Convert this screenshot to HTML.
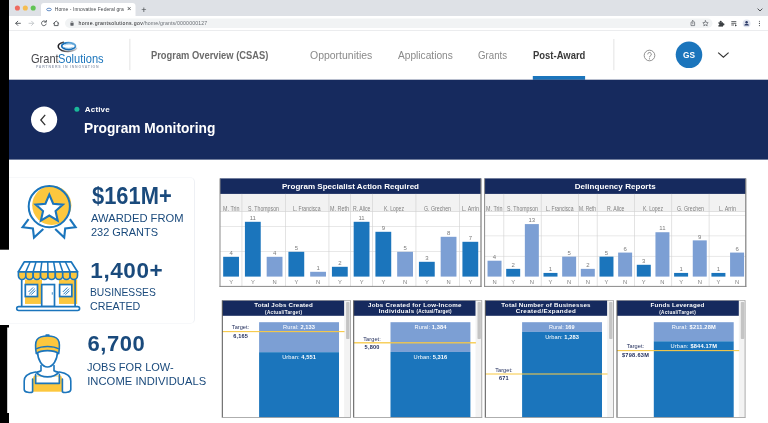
<!DOCTYPE html>
<html><head><meta charset="utf-8"><title>Program Monitoring</title>
<style>
html,body{margin:0;padding:0;}
body{width:768px;height:423px;overflow:hidden;background:#fff;position:relative;font-family:"Liberation Sans",sans-serif;}
div{box-sizing:border-box;}
</style></head><body>
<div id="root" style="position:absolute;left:0;top:0;width:768px;height:423px;overflow:hidden;will-change:transform;transform:translateZ(0);">
<svg style="position:absolute;left:0;top:0" width="768" height="423" viewBox="0 0 768 423"><rect x="0.00" y="0.00" width="9.00" height="249.70" fill="#000"/><rect x="0.00" y="325.00" width="9.00" height="2.50" fill="#000"/><rect x="0.00" y="325.00" width="7.20" height="98.00" fill="#000"/><rect x="0.00" y="413.00" width="9.00" height="10.00" fill="#000"/><rect x="9.00" y="0.00" width="759.00" height="16.00" fill="#dee1e6"/><path d="M41 16.2 V6 A3 3 0 0 1 44 3 H132.5 A3 3 0 0 1 135.5 6 V16.2 Z" fill="#fff"/><circle cx="17.40" cy="7.95" r="2.55" fill="#ee6a5f"/><circle cx="25.30" cy="7.95" r="2.55" fill="#f5bd4f"/><circle cx="33.20" cy="7.95" r="2.55" fill="#61c454"/><rect x="9.00" y="16.00" width="759.00" height="14.40" fill="#fff"/><rect x="9.00" y="30.30" width="759.00" height="0.60" fill="#dadce0"/><rect x="65.00" y="18.60" width="647.50" height="9.30" rx="4.65" fill="#f1f3f4"/><rect x="9.00" y="30.90" width="759.00" height="48.80" fill="#fff"/><rect x="129.50" y="38.80" width="0.80" height="31.40" fill="#dcdcdc"/><rect x="532.80" y="76.00" width="52.30" height="3.80" fill="#1b75bc"/><rect x="613.50" y="39.00" width="0.80" height="31.20" fill="#dcdcdc"/><circle cx="689.00" cy="54.80" r="13.30" fill="#1b75bc"/><rect x="9.00" y="79.70" width="759.00" height="79.90" fill="#162a5e"/><circle cx="44.10" cy="119.60" r="13.10" fill="#fff"/><circle cx="76.90" cy="109.20" r="2.50" fill="#1ab99a"/><rect x="220.00" y="178.40" width="261.00" height="108.00" fill="#fff"/><rect x="220.00" y="193.90" width="261.00" height="17.40" fill="#f2f2f2"/><rect x="220.00" y="178.40" width="261.00" height="15.50" fill="#162a5e"/><rect x="220.00" y="251.30" width="261.00" height="0.60" fill="#d9d9d9"/><rect x="220.00" y="226.30" width="261.00" height="0.60" fill="#d9d9d9"/><rect x="220.00" y="211.00" width="261.00" height="0.60" fill="#cfcfcf"/><rect x="241.65" y="193.90" width="0.60" height="92.50" fill="#d0d0d0"/><rect x="285.15" y="193.90" width="0.60" height="92.50" fill="#d0d0d0"/><rect x="328.65" y="193.90" width="0.60" height="92.50" fill="#d0d0d0"/><rect x="350.40" y="193.90" width="0.60" height="92.50" fill="#d0d0d0"/><rect x="372.15" y="193.90" width="0.60" height="92.50" fill="#d0d0d0"/><rect x="415.65" y="193.90" width="0.60" height="92.50" fill="#d0d0d0"/><rect x="459.15" y="193.90" width="0.60" height="92.50" fill="#d0d0d0"/><rect x="223.17" y="256.80" width="15.81" height="19.80" fill="#1b75bc"/><rect x="244.92" y="221.80" width="15.81" height="54.80" fill="#1b75bc"/><rect x="266.67" y="256.80" width="15.81" height="19.80" fill="#7c9fd4"/><rect x="288.42" y="251.80" width="15.81" height="24.80" fill="#1b75bc"/><rect x="310.17" y="271.80" width="15.81" height="4.80" fill="#7c9fd4"/><rect x="331.92" y="266.80" width="15.81" height="9.80" fill="#1b75bc"/><rect x="353.67" y="221.80" width="15.81" height="54.80" fill="#1b75bc"/><rect x="375.42" y="231.80" width="15.81" height="44.80" fill="#1b75bc"/><rect x="397.17" y="251.80" width="15.81" height="24.80" fill="#7c9fd4"/><rect x="418.92" y="261.80" width="15.81" height="14.80" fill="#1b75bc"/><rect x="440.67" y="236.80" width="15.81" height="39.80" fill="#7c9fd4"/><rect x="462.42" y="241.80" width="15.81" height="34.80" fill="#1b75bc"/><rect x="219.50" y="178.40" width="1.00" height="108.50" fill="#8a8a8a"/><rect x="219.50" y="285.90" width="262.00" height="1.00" fill="#8a8a8a"/><rect x="480.40" y="178.40" width="1.20" height="108.50" fill="#808080"/><rect x="484.60" y="178.40" width="261.20" height="108.00" fill="#fff"/><rect x="484.60" y="193.90" width="261.20" height="17.40" fill="#f2f2f2"/><rect x="484.60" y="178.40" width="261.20" height="15.50" fill="#162a5e"/><rect x="484.60" y="255.95" width="261.20" height="0.60" fill="#d9d9d9"/><rect x="484.60" y="235.60" width="261.20" height="0.60" fill="#d9d9d9"/><rect x="484.60" y="215.25" width="261.20" height="0.60" fill="#d9d9d9"/><rect x="484.60" y="211.00" width="261.20" height="0.60" fill="#cfcfcf"/><rect x="503.56" y="193.90" width="0.60" height="92.50" fill="#d0d0d0"/><rect x="540.87" y="193.90" width="0.60" height="92.50" fill="#d0d0d0"/><rect x="578.19" y="193.90" width="0.60" height="92.50" fill="#d0d0d0"/><rect x="596.84" y="193.90" width="0.60" height="92.50" fill="#d0d0d0"/><rect x="634.16" y="193.90" width="0.60" height="92.50" fill="#d0d0d0"/><rect x="671.47" y="193.90" width="0.60" height="92.50" fill="#d0d0d0"/><rect x="708.79" y="193.90" width="0.60" height="92.50" fill="#d0d0d0"/><rect x="487.53" y="260.72" width="13.99" height="15.88" fill="#7c9fd4"/><rect x="506.19" y="268.86" width="13.99" height="7.74" fill="#1b75bc"/><rect x="524.85" y="224.09" width="13.99" height="52.51" fill="#7c9fd4"/><rect x="543.50" y="272.93" width="13.99" height="3.67" fill="#1b75bc"/><rect x="562.16" y="256.65" width="13.99" height="19.95" fill="#7c9fd4"/><rect x="580.82" y="268.86" width="13.99" height="7.74" fill="#7c9fd4"/><rect x="599.48" y="256.65" width="13.99" height="19.95" fill="#1b75bc"/><rect x="618.13" y="252.58" width="13.99" height="24.02" fill="#7c9fd4"/><rect x="636.79" y="264.79" width="13.99" height="11.81" fill="#1b75bc"/><rect x="655.45" y="232.23" width="13.99" height="44.37" fill="#7c9fd4"/><rect x="674.10" y="272.93" width="13.99" height="3.67" fill="#1b75bc"/><rect x="692.76" y="240.37" width="13.99" height="36.23" fill="#7c9fd4"/><rect x="711.42" y="272.93" width="13.99" height="3.67" fill="#1b75bc"/><rect x="730.08" y="252.58" width="13.99" height="24.02" fill="#7c9fd4"/><rect x="484.10" y="178.40" width="1.00" height="108.50" fill="#8a8a8a"/><rect x="484.10" y="285.90" width="262.20" height="1.00" fill="#8a8a8a"/><rect x="745.20" y="178.40" width="1.20" height="108.50" fill="#808080"/><rect x="222.30" y="300.30" width="128.10" height="117.10" fill="#fff"/><rect x="344.10" y="300.30" width="6.30" height="117.10" fill="#f3f3f3"/><rect x="222.30" y="300.30" width="121.80" height="15.50" fill="#162a5e"/><rect x="259.10" y="322.20" width="79.90" height="30.00" fill="#7c9fd4"/><rect x="259.10" y="352.20" width="79.90" height="65.20" fill="#1b75bc"/><rect x="346.10" y="302.10" width="3.40" height="37.00" rx="0.8" fill="#c4c4c4"/><rect x="222.30" y="331.05" width="122.20" height="1.10" fill="rgb(247,201,70)" fill-opacity="1.0"/><rect x="221.80" y="300.30" width="1.00" height="117.10" fill="#555"/><rect x="221.80" y="417.00" width="129.10" height="0.80" fill="#9a9a9a"/><rect x="350.00" y="300.30" width="0.80" height="117.10" fill="#9a9a9a"/><rect x="222.30" y="300.00" width="128.10" height="0.60" fill="#9a9a9a"/><rect x="353.70" y="300.30" width="128.10" height="117.10" fill="#fff"/><rect x="475.50" y="300.30" width="6.30" height="117.10" fill="#f3f3f3"/><rect x="353.70" y="300.30" width="121.80" height="15.50" fill="#162a5e"/><rect x="390.50" y="322.20" width="79.90" height="29.70" fill="#7c9fd4"/><rect x="390.50" y="351.90" width="79.90" height="65.50" fill="#1b75bc"/><rect x="477.50" y="302.10" width="3.40" height="37.00" rx="0.8" fill="#c4c4c4"/><rect x="353.70" y="342.15" width="122.20" height="1.30" fill="rgb(247,201,70)" fill-opacity="1.0"/><rect x="353.20" y="300.30" width="1.00" height="117.10" fill="#555"/><rect x="353.20" y="417.00" width="129.10" height="0.80" fill="#9a9a9a"/><rect x="481.40" y="300.30" width="0.80" height="117.10" fill="#9a9a9a"/><rect x="353.70" y="300.00" width="128.10" height="0.60" fill="#9a9a9a"/><rect x="485.30" y="300.30" width="128.10" height="117.10" fill="#fff"/><rect x="607.10" y="300.30" width="6.30" height="117.10" fill="#f3f3f3"/><rect x="485.30" y="300.30" width="121.80" height="15.50" fill="#162a5e"/><rect x="522.10" y="322.20" width="79.90" height="9.60" fill="#7c9fd4"/><rect x="522.10" y="331.80" width="79.90" height="85.60" fill="#1b75bc"/><rect x="609.10" y="302.10" width="3.40" height="37.00" rx="0.8" fill="#c4c4c4"/><rect x="485.30" y="373.20" width="122.20" height="1.60" fill="rgb(247,201,70)" fill-opacity="0.65"/><rect x="484.80" y="300.30" width="1.00" height="117.10" fill="#555"/><rect x="484.80" y="417.00" width="129.10" height="0.80" fill="#9a9a9a"/><rect x="613.00" y="300.30" width="0.80" height="117.10" fill="#9a9a9a"/><rect x="485.30" y="300.00" width="128.10" height="0.60" fill="#9a9a9a"/><rect x="617.00" y="300.30" width="128.10" height="117.10" fill="#fff"/><rect x="738.80" y="300.30" width="6.30" height="117.10" fill="#f3f3f3"/><rect x="617.00" y="300.30" width="121.80" height="15.50" fill="#162a5e"/><rect x="653.80" y="322.20" width="79.90" height="19.10" fill="#7c9fd4"/><rect x="653.80" y="341.30" width="79.90" height="76.10" fill="#1b75bc"/><rect x="740.80" y="302.10" width="3.40" height="37.00" rx="0.8" fill="#c4c4c4"/><rect x="617.00" y="350.05" width="122.20" height="1.10" fill="rgb(247,201,70)" fill-opacity="1.0"/><rect x="616.50" y="300.30" width="1.00" height="117.10" fill="#555"/><rect x="616.50" y="417.00" width="129.10" height="0.80" fill="#9a9a9a"/><rect x="744.70" y="300.30" width="0.80" height="117.10" fill="#9a9a9a"/><rect x="617.00" y="300.00" width="128.10" height="0.60" fill="#9a9a9a"/></svg>
<svg style="position:absolute;left:45.5px;top:7px" width="6" height="5" viewBox="0 0 6 5"><ellipse cx="3" cy="2.5" rx="2.3" ry="1.3" fill="none" stroke="#3b6fb5" stroke-width="0.8"/></svg>
<div style="position:absolute;left:54.80px;top:6.97px;font-size:5px;line-height:5px;color:#45484c;white-space:pre;letter-spacing:0.052px;">Home - Innovative Federal gra</div>
<div style="position:absolute;left:127.01px;top:5.25px;font-size:7.5px;line-height:7.5px;color:#3c4043;white-space:pre;">×</div>
<div style="position:absolute;left:141.37px;top:5.58px;font-size:9px;line-height:9px;color:#3c4043;white-space:pre;">+</div>
<svg style="position:absolute;left:756.5px;top:7.5px" width="6" height="4" viewBox="0 0 6 4"><path d="M0.6 0.6 L3 3 L5.4 0.6" fill="none" stroke="#3c4043" stroke-width="0.9"/></svg>
<svg style="position:absolute;left:12px;top:18px" width="52" height="11" viewBox="0 0 52 11">
<g fill="none" stroke="#54585d" stroke-width="0.95" stroke-linecap="round" stroke-linejoin="round">
<path d="M8.4 5.3 H3.8 M5.8 3.2 L3.7 5.3 L5.8 7.4"/>
<path d="M17 5.3 H21.6 M19.6 3.2 L21.7 5.3 L19.6 7.4" stroke="#c4c7ca"/>
<path d="M33.9 3.9 A2.4 2.4 0 1 0 34.2 6.1"/>
<path d="M34.3 2.4 V4.1 H32.6" />
<path d="M41.6 5.4 L44.2 3 L46.8 5.4 M42.3 5 V7.6 H46.1 V5"/>
</g></svg>
<svg style="position:absolute;left:69.8px;top:20.6px" width="4" height="5" viewBox="0 0 4 5"><rect x="0.4" y="2" width="3.2" height="2.7" rx="0.4" fill="#5f6368"/><path d="M1.1 2.1 V1.4 A0.9 0.9 0 0 1 2.9 1.4 V2.1" fill="none" stroke="#5f6368" stroke-width="0.6"/></svg>
<div style="position:absolute;left:78.50px;top:20.80px;font-size:5.2px;line-height:5.2px;color:#202124;white-space:pre;letter-spacing:0.356px;">home.grantsolutions.gov</div>
<div style="position:absolute;left:143.20px;top:20.80px;font-size:5.2px;line-height:5.2px;color:#6a6f75;white-space:pre;letter-spacing:0.158px;">/home/grants/0000000127</div>
<svg style="position:absolute;left:688px;top:18px" width="78" height="11" viewBox="0 0 78 11">
<g fill="none" stroke="#5f6368" stroke-width="0.7" stroke-linejoin="round" stroke-linecap="round">
<path d="M3.3 4.2 H3 V7.6 H6.6 V4.2 H6.3 M4.8 5.9 V2.6 M3.8 3.5 L4.8 2.5 L5.8 3.5"/>
<path d="M17.5 2.7 L18.3 4.5 L20.2 4.7 L18.8 6 L19.2 7.9 L17.5 6.9 L15.8 7.9 L16.2 6 L14.8 4.7 L16.7 4.5 Z"/>
</g>
<path d="M30.4 4.3 H35 V8.6 H30.4 Z" fill="#3c4043"/><circle cx="32.700" cy="3.700" r="1.05" fill="#3c4043"/><circle cx="35.4" cy="6.4" r="1.05" fill="#3c4043"/><circle cx="30.5" cy="6.4" r="0.8" fill="#fff"/>
<g stroke="#3c4043" stroke-width="0.8"><path d="M43.3 3.6 H48.3 M43.3 5.3 H48.3 M43.3 7 H46"/></g>
<path d="M47 6.2 L49 7.3 L47 8.4 Z" fill="#3c4043"/>
<circle cx="58.6" cy="5.4" r="3.9" fill="#dfe3ee"/>
<circle cx="58.6" cy="4.3" r="1.2" fill="#2b3a67"/>
<path d="M56.2 7.6 a2.4 1.9 0 0 1 4.8 0 z" fill="#2b3a67"/>
<circle cx="71.4" cy="3.2" r="0.55" fill="#3c4043"/><circle cx="71.4" cy="5.4" r="0.55" fill="#3c4043"/><circle cx="71.4" cy="7.6" r="0.55" fill="#3c4043"/>
</svg>
<svg style="position:absolute;left:52px;top:38px" width="30" height="17" viewBox="52 38 30 17">
<defs><linearGradient id="lgd" x1="0" y1="0" x2="1" y2="0"><stop offset="0" stop-color="#1d1d22"/><stop offset="0.45" stop-color="#6a6a70"/><stop offset="1" stop-color="#c9c9cd"/></linearGradient>
<linearGradient id="lgb" x1="0" y1="1" x2="1" y2="0"><stop offset="0" stop-color="#0d62ad"/><stop offset="0.6" stop-color="#1b75bc"/><stop offset="1" stop-color="#8cc3ea"/></linearGradient></defs>
<path d="M63.5 42.300 C59.5 43.2 57.9 45.2 58.3 47.2 C58.9 50 63.5 51.7 68.5 51.5 C72.5 51.3 75.6 50 76.6 48.2" fill="none" stroke="url(#lgd)" stroke-width="1.5" stroke-linecap="round"/>
<ellipse cx="68.6" cy="46.1" rx="6.900" ry="3.500" fill="none" stroke="url(#lgb)" stroke-width="1.7"/>
<path d="M63.4 47.100 C66 48.8 71 48.6 72.8 47.2" fill="none" stroke="#5aa5dc" stroke-width="0.7"/>
<path d="M64.6 45.100 C66.5 43.8 71.5 43.7 73.6 44.900" fill="none" stroke="#5aa5dc" stroke-width="0.6"/>
</svg>
<div style="position:absolute;left:30.50px;top:51.90px;font-size:13px;line-height:13px;color:#47474c;white-space:pre;transform:scaleX(0.8520);transform-origin:0 0;">Grant</div>
<div style="position:absolute;left:58.20px;top:51.90px;font-size:13px;line-height:13px;color:#1b75bc;white-space:pre;transform:scaleX(0.8526);transform-origin:0 0;">Solutions</div>
<div style="position:absolute;left:36.00px;top:66.34px;font-size:3.5px;line-height:3.5px;color:#9aa3b5;white-space:pre;font-weight:bold;letter-spacing:0.796px;">PARTNERS IN INNOVATION</div>
<div style="position:absolute;left:151.20px;top:49.83px;font-size:11.3px;line-height:11.3px;color:#6b6b6b;white-space:pre;font-weight:bold;transform:scaleX(0.8272);transform-origin:0 0;">Program Overview (CSAS)</div>
<div style="position:absolute;left:310.30px;top:49.83px;font-size:11.3px;line-height:11.3px;color:#8a8a8a;white-space:pre;transform:scaleX(0.9269);transform-origin:0 0;">Opportunities</div>
<div style="position:absolute;left:397.60px;top:49.83px;font-size:11.3px;line-height:11.3px;color:#8a8a8a;white-space:pre;transform:scaleX(0.8994);transform-origin:0 0;">Applications</div>
<div style="position:absolute;left:478.20px;top:49.83px;font-size:11.3px;line-height:11.3px;color:#8a8a8a;white-space:pre;transform:scaleX(0.8581);transform-origin:0 0;">Grants</div>
<div style="position:absolute;left:532.70px;top:49.83px;font-size:11.3px;line-height:11.3px;color:#3a3a3a;white-space:pre;font-weight:bold;transform:scaleX(0.8373);transform-origin:0 0;">Post-Award</div>
<svg style="position:absolute;left:643.1px;top:48.5px" width="13" height="13" viewBox="0 0 13 13"><circle cx="6.5" cy="6.5" r="5.3" fill="none" stroke="#7d7d7d" stroke-width="0.85"/><path d="M4.700 5.3 A1.8 1.8 0 1 1 7.4 6.9 C6.6 7.3 6.5 7.600 6.5 8.3" fill="none" stroke="#7d7d7d" stroke-width="0.95"/><circle cx="6.5" cy="9.800" r="0.6" fill="#7d7d7d"/></svg>
<div style="position:absolute;left:683.00px;top:50.26px;font-size:9.5px;line-height:9.5px;color:#fff;white-space:pre;font-weight:bold;transform:scaleX(0.8743);transform-origin:0 0;">GS</div>
<svg style="position:absolute;left:717px;top:51px" width="13" height="8" viewBox="0 0 13 8"><path d="M1.2 1.6 L6.4 6.2 L11.6 1.6" fill="none" stroke="#333" stroke-width="1.2"/></svg>
<svg style="position:absolute;left:38px;top:112.5px" width="10" height="14" viewBox="0 0 10 14"><path d="M7.2 1.8 L2.8 7 L7.2 12.2" fill="none" stroke="#333" stroke-width="1.3"/></svg>
<div style="position:absolute;left:84.80px;top:105.83px;font-size:8px;line-height:8px;color:#fff;white-space:pre;font-weight:bold;letter-spacing:0.177px;">Active</div>
<div style="position:absolute;left:83.70px;top:120.65px;font-size:14px;line-height:14px;color:#fff;white-space:pre;font-weight:bold;transform:scaleX(0.9815);transform-origin:0 0;">Program Monitoring</div>
<div style="position:absolute;left:9.00px;top:177.20px;width:186.00px;height:147.00px;background:#fff;border:1px solid #f7f8fa;border-right-color:#eef0f4;border-left:none;border-radius:0 5px 5px 0;box-sizing:border-box;"></div>
<div style="position:absolute;left:91.70px;top:184.83px;font-size:23px;line-height:23px;color:#1a4a7c;white-space:pre;font-weight:bold;transform:scaleX(0.9515);transform-origin:0 0;">$161M+</div>
<div style="position:absolute;left:91.00px;top:212.52px;font-size:11.2px;line-height:11.2px;color:#1a4a7c;white-space:pre;letter-spacing:0.018px;">AWARDED FROM</div>
<div style="position:absolute;left:91.00px;top:226.62px;font-size:11.2px;line-height:11.2px;color:#1a4a7c;white-space:pre;transform:scaleX(0.9800);transform-origin:0 0;">232 GRANTS</div>
<div style="position:absolute;left:90.30px;top:259.55px;font-size:22.5px;line-height:22.5px;color:#1a4a7c;white-space:pre;font-weight:bold;letter-spacing:0.591px;">1,400+</div>
<div style="position:absolute;left:89.80px;top:286.52px;font-size:11.2px;line-height:11.2px;color:#1a4a7c;white-space:pre;transform:scaleX(0.9206);transform-origin:0 0;">BUSINESSES</div>
<div style="position:absolute;left:89.80px;top:300.52px;font-size:11.2px;line-height:11.2px;color:#1a4a7c;white-space:pre;transform:scaleX(0.9566);transform-origin:0 0;">CREATED</div>
<div style="position:absolute;left:87.60px;top:333.28px;font-size:22px;line-height:22px;color:#1a4a7c;white-space:pre;font-weight:bold;letter-spacing:0.511px;">6,700</div>
<div style="position:absolute;left:87.20px;top:361.72px;font-size:11.2px;line-height:11.2px;color:#1a4a7c;white-space:pre;transform:scaleX(0.9846);transform-origin:0 0;">JOBS FOR LOW-</div>
<div style="position:absolute;left:87.20px;top:375.52px;font-size:11.2px;line-height:11.2px;color:#1a4a7c;white-space:pre;letter-spacing:0.056px;">INCOME INDIVIDUALS</div>
<svg style="position:absolute;left:15px;top:180px" width="70" height="65" viewBox="15 180 70 65">
<circle cx="51.8" cy="205.3" r="19.6" fill="#fcc73e"/>
<g fill="#fff" stroke="#1b75bc" stroke-width="2.1" stroke-linejoin="miter">
<path d="M28.6 219.2 L22.6 227.2 L32.9 228.4 L34 237.6 L43.3 228.9"/>
<path d="M69.9 219.2 L75.6 227.2 L65.2 228.4 L64.2 237.6 L55.2 228.9"/>
</g>
<circle cx="49.3" cy="206.6" r="20.6" fill="none" stroke="#1b75bc" stroke-width="2"/>
<path d="M49.30 194.70 L53.17 203.68 L62.90 204.58 L55.56 211.03 L57.71 220.57 L49.30 215.58 L40.89 220.57 L43.04 211.03 L35.70 204.58 L45.43 203.68 Z" fill="#fff" stroke="#1b75bc" stroke-width="2.1" stroke-linejoin="miter"/>
</svg>
<svg style="position:absolute;left:12px;top:255px" width="74" height="60" viewBox="12 255 74 60"><g transform="translate(0,0.45)"><rect x="25" y="279" width="17" height="24.5" fill="#fcc73e"/><rect x="59" y="279" width="18.2" height="24.5" fill="#fcc73e"/><path d="M21.7 277 V306 M75.1 277 V306" stroke="#1b75bc" stroke-width="1.7" fill="none"/><path d="M18.40 271.3 V275.4 A3.69 3.69 0 0 0 25.79 275.4 V271.3 Z" fill="#fcc73e" stroke="#1b75bc" stroke-width="1.6"/><path d="M25.79 271.3 V275.4 A3.69 3.69 0 0 0 33.17 275.4 V271.3 Z" fill="#fcc73e" stroke="#1b75bc" stroke-width="1.6"/><path d="M33.17 271.3 V275.4 A3.69 3.69 0 0 0 40.56 275.4 V271.3 Z" fill="#fcc73e" stroke="#1b75bc" stroke-width="1.6"/><path d="M40.56 271.3 V275.4 A3.69 3.69 0 0 0 47.95 275.4 V271.3 Z" fill="#fcc73e" stroke="#1b75bc" stroke-width="1.6"/><path d="M47.95 271.3 V275.4 A3.69 3.69 0 0 0 55.34 275.4 V271.3 Z" fill="#fcc73e" stroke="#1b75bc" stroke-width="1.6"/><path d="M55.34 271.3 V275.4 A3.69 3.69 0 0 0 62.73 275.4 V271.3 Z" fill="#fcc73e" stroke="#1b75bc" stroke-width="1.6"/><path d="M62.73 271.3 V275.4 A3.69 3.69 0 0 0 70.11 275.4 V271.3 Z" fill="#fcc73e" stroke="#1b75bc" stroke-width="1.6"/><path d="M70.11 271.3 V275.4 A3.69 3.69 0 0 0 77.50 275.4 V271.3 Z" fill="#fcc73e" stroke="#1b75bc" stroke-width="1.6"/><path d="M24.2 261.5 H71.3 L77.5 271.3 H18.4 Z" fill="#fff" stroke="#1b75bc" stroke-width="1.7" stroke-linejoin="round"/><path d="M30.09 261.5 L25.79 271.3" stroke="#1b75bc" stroke-width="1.5"/><path d="M35.97 261.5 L33.17 271.3" stroke="#1b75bc" stroke-width="1.5"/><path d="M41.86 261.5 L40.56 271.3" stroke="#1b75bc" stroke-width="1.5"/><path d="M47.75 261.5 L47.95 271.3" stroke="#1b75bc" stroke-width="1.5"/><path d="M53.64 261.5 L55.34 271.3" stroke="#1b75bc" stroke-width="1.5"/><path d="M59.52 261.5 L62.73 271.3" stroke="#1b75bc" stroke-width="1.5"/><path d="M65.41 261.5 L70.11 271.3" stroke="#1b75bc" stroke-width="1.5"/><rect x="25.3" y="284.1" width="12.2" height="12" fill="#fff" stroke="#1b75bc" stroke-width="1.7"/><path d="M28.6 291.5 L33.1 287 M29.200000000000003 293.8 L34.8 288.2 M31.200000000000003 294.2 L35.2 290.2" stroke="#1b75bc" stroke-width="0.95"/><rect x="59.6" y="284.1" width="12.2" height="12" fill="#fff" stroke="#1b75bc" stroke-width="1.7"/><path d="M62.9 291.5 L67.4 287 M63.5 293.8 L69.1 288.2 M65.5 294.2 L69.5 290.2" stroke="#1b75bc" stroke-width="0.95"/><rect x="41.7" y="284.1" width="12.8" height="22" fill="#fff" stroke="#1b75bc" stroke-width="1.7"/><path d="M52.3 291.8 V294.2" stroke="#1b75bc" stroke-width="0.8"/><rect x="16.7" y="306.2" width="62.9" height="3.9" rx="1.95" fill="#fff" stroke="#1b75bc" stroke-width="1.6"/></g></svg>
<svg style="position:absolute;left:15px;top:328px" width="65" height="70" viewBox="15 328 65 70">
<path d="M32.6 375.6 H62.4 V391.7 H32.6 Z" fill="#fcc73e"/>
<path d="M36.4 376.4 H58.6 V383.4 H36.4 Z" fill="#fff"/>
<g fill="none" stroke="#1b75bc" stroke-width="1.6" stroke-linecap="round" stroke-linejoin="round">
<path d="M35.4 372 C29.4 373 24.2 375.4 24.2 381 V389.4 C24.2 392.900 31.4 392.8 32.6 391.8 V379" fill="#fff"/>
<path d="M59.6 372 C65.600 373 70.8 375.4 70.8 381 V389.4 C70.8 392.900 63.6 392.8 62.4 391.8 V379" fill="#fff"/>
<path d="M35.6 374.4 V383.4 H59.4 V374.4" />
<path d="M41 365.600 V370.8 C39.6 371.6 38 372 36.2 372.4 C41.5 378.4 53.5 378.4 58.8 372.4 C57 372 55.4 371.6 54 370.8 V365.600" fill="#fff"/>
</g>
<path d="M37.6 352 C37.6 360 42.2 367 47.5 367 C52.8 367 57.4 360 57.400 352 C52 348.600 43 348.600 37.6 352 Z" fill="#fff" stroke="#1b75bc" stroke-width="1.6" stroke-linejoin="round"/>
<path d="M36.3 353.6 C35.2 347 35.2 342.2 37 339.6 C39.4 336.2 44 336 47.5 336 C51 336 55.600 336.2 58 339.6 C59.8 342.2 59.8 347 58.7 353.6 C54 349.600 41 349.600 36.3 353.6 Z" fill="#fcc73e" stroke="#1b75bc" stroke-width="1.6" stroke-linejoin="round"/>
<path d="M36 349 C42 345.7 53 345.7 59 349" fill="none" stroke="#1b75bc" stroke-width="1.4"/>
<path d="M46.2 335.2 H48.8" stroke="#1b75bc" stroke-width="1.8" stroke-linecap="round"/>
</svg>
<div style="position:absolute;left:282.00px;top:182.63px;font-size:8px;line-height:8px;color:#fff;white-space:pre;font-weight:bold;letter-spacing:0.025px;">Program Specialist Action Required</div>
<div style="position:absolute;left:222.82px;top:205.83px;font-size:6.7px;line-height:6.7px;color:#808080;white-space:pre;transform:scaleX(0.8059);transform-origin:0 0;">M. Trin</div>
<div style="position:absolute;left:248.20px;top:205.83px;font-size:6.7px;line-height:6.7px;color:#808080;white-space:pre;transform:scaleX(0.7803);transform-origin:0 0;">S. Thompson</div>
<div style="position:absolute;left:293.45px;top:205.83px;font-size:6.7px;line-height:6.7px;color:#808080;white-space:pre;transform:scaleX(0.7536);transform-origin:0 0;">L. Francisca</div>
<div style="position:absolute;left:330.32px;top:205.83px;font-size:6.7px;line-height:6.7px;color:#808080;white-space:pre;transform:scaleX(0.8100);transform-origin:0 0;">M. Reth</div>
<div style="position:absolute;left:352.82px;top:205.83px;font-size:6.7px;line-height:6.7px;color:#808080;white-space:pre;transform:scaleX(0.7704);transform-origin:0 0;">R. Alice</div>
<div style="position:absolute;left:384.20px;top:205.83px;font-size:6.7px;line-height:6.7px;color:#808080;white-space:pre;transform:scaleX(0.7562);transform-origin:0 0;">K. Lopez</div>
<div style="position:absolute;left:424.20px;top:205.83px;font-size:6.7px;line-height:6.7px;color:#808080;white-space:pre;transform:scaleX(0.7796);transform-origin:0 0;">G. Grechen</div>
<div style="position:absolute;left:461.82px;top:205.83px;font-size:6.7px;line-height:6.7px;color:#808080;white-space:pre;transform:scaleX(0.8009);transform-origin:0 0;">L. Arrin</div>
<div style="position:absolute;left:229.41px;top:250.02px;font-size:6px;line-height:6px;color:#7c7c7c;white-space:pre;">4</div>
<div style="position:absolute;left:229.14px;top:280.19px;font-size:5.8px;line-height:5.8px;color:#808080;white-space:pre;">Y</div>
<div style="position:absolute;left:249.71px;top:215.02px;font-size:6px;line-height:6px;color:#7c7c7c;white-space:pre;">11</div>
<div style="position:absolute;left:250.89px;top:280.19px;font-size:5.8px;line-height:5.8px;color:#808080;white-space:pre;">Y</div>
<div style="position:absolute;left:272.91px;top:250.02px;font-size:6px;line-height:6px;color:#7c7c7c;white-space:pre;">4</div>
<div style="position:absolute;left:272.48px;top:280.19px;font-size:5.8px;line-height:5.8px;color:#808080;white-space:pre;">N</div>
<div style="position:absolute;left:294.66px;top:245.02px;font-size:6px;line-height:6px;color:#7c7c7c;white-space:pre;">5</div>
<div style="position:absolute;left:294.39px;top:280.19px;font-size:5.8px;line-height:5.8px;color:#808080;white-space:pre;">Y</div>
<div style="position:absolute;left:316.41px;top:265.02px;font-size:6px;line-height:6px;color:#7c7c7c;white-space:pre;">1</div>
<div style="position:absolute;left:315.98px;top:280.19px;font-size:5.8px;line-height:5.8px;color:#808080;white-space:pre;">N</div>
<div style="position:absolute;left:338.16px;top:260.02px;font-size:6px;line-height:6px;color:#7c7c7c;white-space:pre;">2</div>
<div style="position:absolute;left:337.89px;top:280.19px;font-size:5.8px;line-height:5.8px;color:#808080;white-space:pre;">Y</div>
<div style="position:absolute;left:358.46px;top:215.02px;font-size:6px;line-height:6px;color:#7c7c7c;white-space:pre;">11</div>
<div style="position:absolute;left:359.64px;top:280.19px;font-size:5.8px;line-height:5.8px;color:#808080;white-space:pre;">Y</div>
<div style="position:absolute;left:381.66px;top:225.02px;font-size:6px;line-height:6px;color:#7c7c7c;white-space:pre;">9</div>
<div style="position:absolute;left:381.39px;top:280.19px;font-size:5.8px;line-height:5.8px;color:#808080;white-space:pre;">Y</div>
<div style="position:absolute;left:403.41px;top:245.02px;font-size:6px;line-height:6px;color:#7c7c7c;white-space:pre;">5</div>
<div style="position:absolute;left:402.98px;top:280.19px;font-size:5.8px;line-height:5.8px;color:#808080;white-space:pre;">N</div>
<div style="position:absolute;left:425.16px;top:255.02px;font-size:6px;line-height:6px;color:#7c7c7c;white-space:pre;">3</div>
<div style="position:absolute;left:424.89px;top:280.19px;font-size:5.8px;line-height:5.8px;color:#808080;white-space:pre;">Y</div>
<div style="position:absolute;left:446.91px;top:230.02px;font-size:6px;line-height:6px;color:#7c7c7c;white-space:pre;">8</div>
<div style="position:absolute;left:446.48px;top:280.19px;font-size:5.8px;line-height:5.8px;color:#808080;white-space:pre;">N</div>
<div style="position:absolute;left:468.66px;top:235.02px;font-size:6px;line-height:6px;color:#7c7c7c;white-space:pre;">7</div>
<div style="position:absolute;left:468.39px;top:280.19px;font-size:5.8px;line-height:5.8px;color:#808080;white-space:pre;">Y</div>
<div style="position:absolute;left:574.70px;top:182.63px;font-size:8px;line-height:8px;color:#fff;white-space:pre;font-weight:bold;letter-spacing:0.055px;">Delinquency Reports</div>
<div style="position:absolute;left:486.28px;top:205.83px;font-size:6.7px;line-height:6.7px;color:#808080;white-space:pre;transform:scaleX(0.8059);transform-origin:0 0;">M. Trin</div>
<div style="position:absolute;left:507.01px;top:205.83px;font-size:6.7px;line-height:6.7px;color:#808080;white-space:pre;transform:scaleX(0.7803);transform-origin:0 0;">S. Thompson</div>
<div style="position:absolute;left:546.08px;top:205.83px;font-size:6.7px;line-height:6.7px;color:#808080;white-space:pre;transform:scaleX(0.7536);transform-origin:0 0;">L. Francisca</div>
<div style="position:absolute;left:579.31px;top:205.83px;font-size:6.7px;line-height:6.7px;color:#808080;white-space:pre;transform:scaleX(0.7247);transform-origin:0 0;">M. Reth</div>
<div style="position:absolute;left:607.05px;top:205.83px;font-size:6.7px;line-height:6.7px;color:#808080;white-space:pre;transform:scaleX(0.7704);transform-origin:0 0;">R. Alice</div>
<div style="position:absolute;left:643.11px;top:205.83px;font-size:6.7px;line-height:6.7px;color:#808080;white-space:pre;transform:scaleX(0.7562);transform-origin:0 0;">K. Lopez</div>
<div style="position:absolute;left:676.93px;top:205.83px;font-size:6.7px;line-height:6.7px;color:#808080;white-space:pre;transform:scaleX(0.7796);transform-origin:0 0;">G. Grechen</div>
<div style="position:absolute;left:719.24px;top:205.83px;font-size:6.7px;line-height:6.7px;color:#808080;white-space:pre;transform:scaleX(0.8009);transform-origin:0 0;">L. Arrin</div>
<div style="position:absolute;left:492.86px;top:253.94px;font-size:6px;line-height:6px;color:#7c7c7c;white-space:pre;">4</div>
<div style="position:absolute;left:492.43px;top:280.19px;font-size:5.8px;line-height:5.8px;color:#808080;white-space:pre;">N</div>
<div style="position:absolute;left:511.52px;top:262.08px;font-size:6px;line-height:6px;color:#7c7c7c;white-space:pre;">2</div>
<div style="position:absolute;left:511.25px;top:280.19px;font-size:5.8px;line-height:5.8px;color:#808080;white-space:pre;">Y</div>
<div style="position:absolute;left:528.51px;top:217.31px;font-size:6px;line-height:6px;color:#7c7c7c;white-space:pre;">13</div>
<div style="position:absolute;left:529.75px;top:280.19px;font-size:5.8px;line-height:5.8px;color:#808080;white-space:pre;">N</div>
<div style="position:absolute;left:548.83px;top:266.15px;font-size:6px;line-height:6px;color:#7c7c7c;white-space:pre;">1</div>
<div style="position:absolute;left:548.57px;top:280.19px;font-size:5.8px;line-height:5.8px;color:#808080;white-space:pre;">Y</div>
<div style="position:absolute;left:567.49px;top:249.87px;font-size:6px;line-height:6px;color:#7c7c7c;white-space:pre;">5</div>
<div style="position:absolute;left:567.06px;top:280.19px;font-size:5.8px;line-height:5.8px;color:#808080;white-space:pre;">N</div>
<div style="position:absolute;left:586.15px;top:262.08px;font-size:6px;line-height:6px;color:#7c7c7c;white-space:pre;">2</div>
<div style="position:absolute;left:585.72px;top:280.19px;font-size:5.8px;line-height:5.8px;color:#808080;white-space:pre;">N</div>
<div style="position:absolute;left:604.80px;top:249.87px;font-size:6px;line-height:6px;color:#7c7c7c;white-space:pre;">5</div>
<div style="position:absolute;left:604.54px;top:280.19px;font-size:5.8px;line-height:5.8px;color:#808080;white-space:pre;">Y</div>
<div style="position:absolute;left:623.46px;top:245.80px;font-size:6px;line-height:6px;color:#7c7c7c;white-space:pre;">6</div>
<div style="position:absolute;left:623.03px;top:280.19px;font-size:5.8px;line-height:5.8px;color:#808080;white-space:pre;">N</div>
<div style="position:absolute;left:642.12px;top:258.01px;font-size:6px;line-height:6px;color:#7c7c7c;white-space:pre;">3</div>
<div style="position:absolute;left:641.85px;top:280.19px;font-size:5.8px;line-height:5.8px;color:#808080;white-space:pre;">Y</div>
<div style="position:absolute;left:659.33px;top:225.45px;font-size:6px;line-height:6px;color:#7c7c7c;white-space:pre;">11</div>
<div style="position:absolute;left:660.35px;top:280.19px;font-size:5.8px;line-height:5.8px;color:#808080;white-space:pre;">N</div>
<div style="position:absolute;left:679.43px;top:266.15px;font-size:6px;line-height:6px;color:#7c7c7c;white-space:pre;">1</div>
<div style="position:absolute;left:679.17px;top:280.19px;font-size:5.8px;line-height:5.8px;color:#808080;white-space:pre;">Y</div>
<div style="position:absolute;left:698.09px;top:233.59px;font-size:6px;line-height:6px;color:#7c7c7c;white-space:pre;">9</div>
<div style="position:absolute;left:697.66px;top:280.19px;font-size:5.8px;line-height:5.8px;color:#808080;white-space:pre;">N</div>
<div style="position:absolute;left:716.75px;top:266.15px;font-size:6px;line-height:6px;color:#7c7c7c;white-space:pre;">1</div>
<div style="position:absolute;left:716.48px;top:280.19px;font-size:5.8px;line-height:5.8px;color:#808080;white-space:pre;">Y</div>
<div style="position:absolute;left:735.40px;top:245.80px;font-size:6px;line-height:6px;color:#7c7c7c;white-space:pre;">6</div>
<div style="position:absolute;left:734.98px;top:280.19px;font-size:5.8px;line-height:5.8px;color:#808080;white-space:pre;">N</div>
<div style="position:absolute;left:254.15px;top:302.25px;font-size:6.2px;line-height:6.2px;color:#fff;white-space:pre;font-weight:bold;letter-spacing:0.197px;">Total Jobs Created</div>
<div style="position:absolute;left:265.05px;top:310.51px;font-size:4.6px;line-height:4.6px;color:#fff;white-space:pre;font-weight:bold;letter-spacing:0.342px;">(Actual/Target)</div>
<div style="position:absolute;left:283.05px;top:324.97px;font-size:5.7px;line-height:5.7px;color:#fff;white-space:pre;letter-spacing:0.086px;">Rural: <b>2,133</b></div>
<div style="position:absolute;left:282.20px;top:355.27px;font-size:5.7px;line-height:5.7px;color:#fff;white-space:pre;letter-spacing:0.068px;">Urban: <b>4,551</b></div>
<div style="position:absolute;left:231.85px;top:324.86px;font-size:5.6px;line-height:5.6px;color:#1c2857;white-space:pre;letter-spacing:0.030px;">Target:</div>
<div style="position:absolute;left:233.20px;top:333.76px;font-size:5.6px;line-height:5.6px;color:#1c2857;white-space:pre;font-weight:bold;letter-spacing:0.147px;">6,165</div>
<div style="position:absolute;left:368.10px;top:302.25px;font-size:6.2px;line-height:6.2px;color:#fff;white-space:pre;font-weight:bold;letter-spacing:0.248px;">Jobs Created for Low-Income</div>
<div style="position:absolute;left:415.10px;top:308.05px;font-size:6.2px;line-height:6.2px;color:#fff;white-space:pre;display:none;"><b>Individuals </b></div>
<div style="position:absolute;left:378.70px;top:308.05px;font-size:6.2px;line-height:6.2px;color:#fff;white-space:pre;font-weight:bold;letter-spacing:0.312px;">Individuals</div>
<div style="position:absolute;left:416.60px;top:309.81px;font-size:4.6px;line-height:4.6px;color:#fff;white-space:pre;font-weight:bold;letter-spacing:0.206px;">(Actual/Target)</div>
<div style="position:absolute;left:414.45px;top:324.97px;font-size:5.7px;line-height:5.7px;color:#fff;white-space:pre;letter-spacing:0.086px;">Rural: <b>1,384</b></div>
<div style="position:absolute;left:413.60px;top:354.97px;font-size:5.7px;line-height:5.7px;color:#fff;white-space:pre;letter-spacing:0.068px;">Urban: <b>5,316</b></div>
<div style="position:absolute;left:363.15px;top:336.96px;font-size:5.6px;line-height:5.6px;color:#1c2857;white-space:pre;letter-spacing:0.097px;">Target:</div>
<div style="position:absolute;left:364.55px;top:345.36px;font-size:5.6px;line-height:5.6px;color:#1c2857;white-space:pre;font-weight:bold;letter-spacing:0.222px;">5,800</div>
<div style="position:absolute;left:501.30px;top:302.25px;font-size:6.2px;line-height:6.2px;color:#fff;white-space:pre;font-weight:bold;letter-spacing:0.246px;">Total Number of Businesses</div>
<div style="position:absolute;left:515.70px;top:308.05px;font-size:6.2px;line-height:6.2px;color:#fff;white-space:pre;font-weight:bold;letter-spacing:0.384px;">Created/Expanded</div>
<div style="position:absolute;left:549.30px;top:324.97px;font-size:5.7px;line-height:5.7px;color:#fff;white-space:pre;transform:scaleX(0.9696);transform-origin:0 0;">Rural: <b>169</b></div>
<div style="position:absolute;left:545.20px;top:334.87px;font-size:5.7px;line-height:5.7px;color:#fff;white-space:pre;letter-spacing:0.068px;">Urban: <b>1,283</b></div>
<div style="position:absolute;left:495.25px;top:368.46px;font-size:5.6px;line-height:5.6px;color:#1c2857;white-space:pre;letter-spacing:0.030px;">Target:</div>
<div style="position:absolute;left:499.10px;top:375.66px;font-size:5.6px;line-height:5.6px;color:#1c2857;white-space:pre;font-weight:bold;letter-spacing:0.128px;">671</div>
<div style="position:absolute;left:650.55px;top:302.25px;font-size:6.2px;line-height:6.2px;color:#fff;white-space:pre;font-weight:bold;letter-spacing:0.183px;">Funds Leveraged</div>
<div style="position:absolute;left:659.25px;top:310.51px;font-size:4.6px;line-height:4.6px;color:#fff;white-space:pre;font-weight:bold;letter-spacing:0.313px;">(Actual/Target)</div>
<div style="position:absolute;left:671.70px;top:324.97px;font-size:5.7px;line-height:5.7px;color:#fff;white-space:pre;letter-spacing:0.162px;">Rural: <b>$211.28M</b></div>
<div style="position:absolute;left:670.50px;top:344.37px;font-size:5.7px;line-height:5.7px;color:#fff;white-space:pre;letter-spacing:0.175px;">Urban: <b>$844.17M</b></div>
<div style="position:absolute;left:626.75px;top:344.26px;font-size:5.6px;line-height:5.6px;color:#1c2857;white-space:pre;letter-spacing:0.030px;">Target:</div>
<div style="position:absolute;left:621.90px;top:352.76px;font-size:5.6px;line-height:5.6px;color:#1c2857;white-space:pre;font-weight:bold;letter-spacing:0.299px;">$798.63M</div>
</div>
</body></html>
